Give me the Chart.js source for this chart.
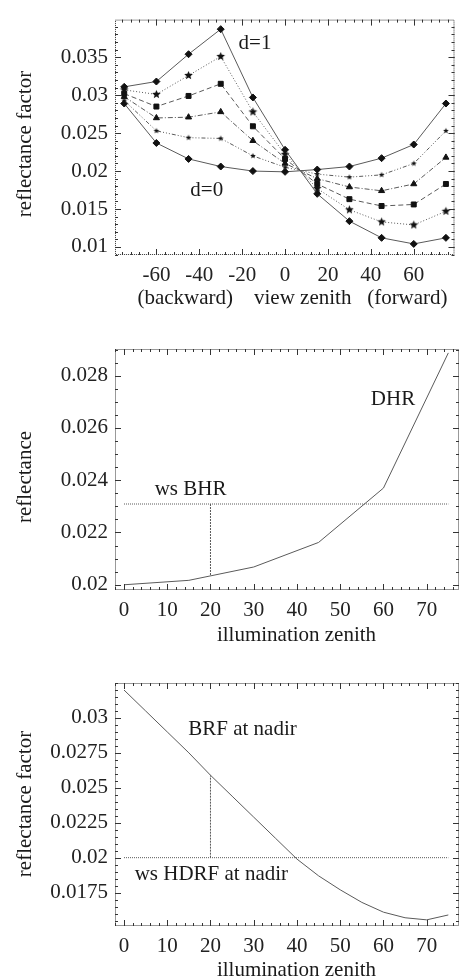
<!DOCTYPE html>
<html>
<head>
<meta charset="utf-8">
<script src="https://cdn.jsdelivr.net/npm/chart.js@4.4.1/dist/chart.umd.min.js"></script>
<style>
  html, body { margin: 0; padding: 0; background: #fff; }
  canvas { position: absolute; left: 0; }
  #chart1 { top: 0; }
  #chart2 { top: 320px; }
  #chart3 { top: 650px; }
</style>
</head>
<body>
<canvas id="chart1" width="460" height="320"></canvas>
<canvas id="chart2" width="460" height="330"></canvas>
<canvas id="chart3" width="460" height="329"></canvas>
<script>
// --- panel 1: BRF vs view zenith, d = 0 ... 1
const viewZenith = [-75, -60, -45, -30, -15, 0, 15, 30, 45, 60, 75];
const brfD10 = [0.0311, 0.0318, 0.0354, 0.0387, 0.0297, 0.0228, 0.0170, 0.0134, 0.0112, 0.0104, 0.0112];
const brfD08 = [0.0307, 0.0301, 0.0326, 0.0351, 0.0278, 0.0222, 0.0177, 0.0149, 0.0133, 0.0129, 0.0147];
const brfD06 = [0.0302, 0.0285, 0.0299, 0.0315, 0.0259, 0.0216, 0.0183, 0.0163, 0.0154, 0.0156, 0.0183];
const brfD04 = [0.0298, 0.0270, 0.0271, 0.0278, 0.0240, 0.0210, 0.0190, 0.0179, 0.0174, 0.0183, 0.0218];
const brfD02 = [0.0293, 0.0253, 0.0244, 0.0243, 0.0220, 0.0205, 0.0196, 0.0192, 0.0195, 0.0210, 0.0253];
const brfD00 = [0.0289, 0.0237, 0.0216, 0.0206, 0.0200, 0.0199, 0.0202, 0.0206, 0.0217, 0.0235, 0.0289];
const xTicks1 = [-60, -40, -20, 0, 20, 40, 60];
const yTicks1 = [0.01, 0.015, 0.02, 0.025, 0.03, 0.035];
const yLabels1 = ['0.01', '0.015', '0.02', '0.025', '0.03', '0.035'];

// --- panel 2: DHR vs illumination zenith
const illumZenith = [0, 15, 30, 45, 60, 75];
const dhr = [0.0200, 0.02017, 0.02068, 0.02162, 0.02370, 0.02887];
const bhrX = [0, 75];
const bhrY = [0.02309, 0.02309];
const bhrMarkX = [20, 20];
const bhrMarkY = [0.02309, 0.02034];
const xTicks23 = [0, 10, 20, 30, 40, 50, 60, 70];
const yTicks2 = [0.02, 0.022, 0.024, 0.026, 0.028];
const yLabels2 = ['0.02', '0.022', '0.024', '0.026', '0.028'];

// --- panel 3: BRF at nadir vs illumination zenith
const nadirZenith = [0, 5, 10, 15, 20, 25, 30, 35, 40, 45, 50, 55, 60, 65, 70, 75];
const brfNadir = [0.0320, 0.0305, 0.0290, 0.0275, 0.0259, 0.0244, 0.0229, 0.0214, 0.0199,
                  0.0187, 0.0177, 0.0168, 0.0161, 0.0157, 0.01555, 0.0159];
const hdrfX = [0, 75];
const hdrfY = [0.0200, 0.0200];
const hdrfMarkX = [20, 20];
const hdrfMarkY = [0.0200, 0.0259];
const yTicks3 = [0.0175, 0.02, 0.0225, 0.025, 0.0275, 0.03];
const yLabels3 = ['0.0175', '0.02', '0.0225', '0.025', '0.0275', '0.03'];

const FONT = 'Liberation Serif';
Chart.defaults.font.family = FONT;
Chart.defaults.font.size = 21;
Chart.defaults.color = '#222';

const LINE = '#5a5a5a';
const MARK = '#111';

function makeStar(r) {
  const s = Math.ceil(r * 2 + 2);
  const c = document.createElement('canvas');
  c.width = c.height = s;
  const g = c.getContext('2d');
  g.fillStyle = MARK;
  g.beginPath();
  for (let i = 0; i < 10; i++) {
    const a = -Math.PI / 2 + i * Math.PI / 5;
    const rr = i % 2 ? r * 0.45 : r;
    g.lineTo(s / 2 + rr * Math.cos(a), s / 2 + rr * Math.sin(a));
  }
  g.closePath();
  g.fill();
  return c;
}

function pts(xs, ys) {
  return xs.map((x, i) => ({ x: x, y: ys[i] }));
}

function series(xs, ys, dash, style, radius) {
  return {
    data: pts(xs, ys),
    borderColor: LINE,
    borderWidth: 1,
    borderDash: dash,
    pointStyle: style,
    pointRadius: radius,
    pointBackgroundColor: MARK,
    pointBorderColor: MARK,
    pointBorderWidth: 1,
    tension: 0,
    fill: false
  };
}

// frame with inward major/minor ticks on all four sides
const framePlugin = {
  id: 'frame',
  afterDraw(chart, args, opts) {
    const { ctx, chartArea: a, scales } = chart;
    const xs = scales.x, ys = scales.y;
    ctx.save();
    ctx.strokeStyle = '#333';
    ctx.lineWidth = 1;
    ctx.setLineDash([1, 1]);
    ctx.strokeRect(a.left + 0.5, a.top + 0.5, a.right - a.left - 1, a.bottom - a.top - 1);
    ctx.setLineDash([]);
    ctx.beginPath();
    const tickAt = (scale, v, len, horiz) => {
      const p = Math.round(scale.getPixelForValue(v)) + 0.5;
      if (horiz) {
        ctx.moveTo(p, a.bottom); ctx.lineTo(p, a.bottom - len);
        ctx.moveTo(p, a.top); ctx.lineTo(p, a.top + len);
      } else {
        ctx.moveTo(a.left, p); ctx.lineTo(a.left + len, p);
        ctx.moveTo(a.right, p); ctx.lineTo(a.right - len, p);
      }
    };
    const eps = 1e-9;
    for (let v = Math.ceil(xs.min / opts.xMinor - eps) * opts.xMinor; v <= xs.max + eps; v += opts.xMinor) {
      tickAt(xs, v, 3, true);
    }
    for (let v = Math.ceil(ys.min / opts.yMinor - eps) * opts.yMinor; v <= ys.max + eps; v += opts.yMinor) {
      tickAt(ys, v, 3, false);
    }
    xs.ticks.forEach(t => tickAt(xs, t.value, 6, true));
    ys.ticks.forEach(t => tickAt(ys, t.value, 6, false));
    ctx.stroke();
    ctx.restore();
  }
};

// free text: data coordinates (x, y) or canvas pixels (px, py)
const notesPlugin = {
  id: 'notes',
  afterDraw(chart, args, opts) {
    const { ctx, scales } = chart;
    ctx.save();
    ctx.fillStyle = '#1a1a1a';
    ctx.font = '21px "' + FONT + '"';
    ctx.textAlign = 'center';
    ctx.textBaseline = 'middle';
    (opts.items || []).forEach(n => {
      const px = n.px !== undefined ? n.px : scales.x.getPixelForValue(n.x);
      const py = n.py !== undefined ? n.py : scales.y.getPixelForValue(n.y);
      ctx.save();
      ctx.translate(px, py);
      if (n.rotate) ctx.rotate(-Math.PI / 2);
      ctx.fillText(n.text, 0, 0);
      ctx.restore();
    });
    ctx.restore();
  }
};

function baseOptions(p) {
  return {
    responsive: false,
    animation: false,
    layout: { padding: { top: p.top, right: 1, left: 0, bottom: 0 } },
    plugins: {
      legend: { display: false },
      tooltip: { enabled: false },
      frame: { xMinor: p.xMinor, yMinor: p.yMinor },
      notes: { items: p.notes }
    },
    scales: {
      x: {
        type: 'linear',
        min: p.xMin,
        max: p.xMax,
        grid: { display: false, drawTicks: false },
        border: { display: false },
        afterBuildTicks: s => { s.ticks = p.xTicks.map(v => ({ value: v })); },
        afterFit: s => { s.height = p.height - p.bottom; },
        ticks: { padding: 8, maxRotation: 0, autoSkip: false, callback: v => String(v) }
      },
      y: {
        type: 'linear',
        min: p.yMin,
        max: p.yMax,
        grid: { display: false, drawTicks: false },
        border: { display: false },
        afterBuildTicks: s => { s.ticks = p.yTicks.map(v => ({ value: v })); },
        afterFit: s => { s.width = 115; },
        ticks: { padding: 7, autoSkip: false, callback: (v, i) => p.yLabels[i] }
      }
    }
  };
}

// 1. BRF for different d
new Chart(document.getElementById('chart1'), {
  type: 'line',
  data: {
    datasets: [
      series(viewZenith, brfD10, [], 'rectRot', 3.5),
      series(viewZenith, brfD08, [1, 2], makeStar(4.5), 4.5),
      series(viewZenith, brfD06, [5, 3], 'rect', 3.5),
      series(viewZenith, brfD04, [5, 2, 1, 2], 'triangle', 3.5),
      series(viewZenith, brfD02, [4, 2, 1, 2, 1, 2, 1, 2], makeStar(3), 3),
      series(viewZenith, brfD00, [], 'rectRot', 3.5)
    ]
  },
  options: baseOptions({
    top: 13, height: 320, bottom: 255,
    xMin: -79.3, xMax: 79, yMin: 0.00894, yMax: 0.03996,
    xTicks: xTicks1, yTicks: yTicks1, yLabels: yLabels1,
    xMinor: 4, yMinor: 0.001,
    notes: [
      { text: 'd=1', x: -14, y: 0.0368 },
      { text: 'd=0', x: -36.5, y: 0.01747 },
      { text: '(backward)    view zenith   (forward)', px: 292.5, py: 298 },
      { text: 'reflectance factor', px: 25, py: 144, rotate: true }
    ]
  }),
  plugins: [framePlugin, notesPlugin]
});

// 2. DHR and white-sky BHR
new Chart(document.getElementById('chart2'), {
  type: 'line',
  data: {
    datasets: [
      series(illumZenith, dhr, [], false, 0),
      series(bhrX, bhrY, [1, 1], false, 0),
      series(bhrMarkX, bhrMarkY, [2, 1], false, 0)
    ]
  },
  options: baseOptions({
    top: 29, height: 330, bottom: 270,
    xMin: -2.08, xMax: 77.47, yMin: 0.0198, yMax: 0.02902,
    xTicks: xTicks23, yTicks: yTicks2, yLabels: yLabels2,
    xMinor: 2, yMinor: 0.0005,
    notes: [
      { text: 'DHR', x: 62.2, y: 0.02708 },
      { text: 'ws BHR', x: 15.4, y: 0.02366 },
      { text: 'illumination zenith', px: 296.5, py: 315 },
      { text: 'reflectance', px: 25, py: 157, rotate: true }
    ]
  }),
  plugins: [framePlugin, notesPlugin]
});

// 3. BRF at nadir and white-sky HDRF at nadir
new Chart(document.getElementById('chart3'), {
  type: 'line',
  data: {
    datasets: [
      series(nadirZenith, brfNadir, [], false, 0),
      series(hdrfX, hdrfY, [1, 1], false, 0),
      series(hdrfMarkX, hdrfMarkY, [2, 1], false, 0)
    ]
  },
  options: baseOptions({
    top: 33, height: 329, bottom: 276,
    xMin: -2.08, xMax: 77.47, yMin: 0.01511, yMax: 0.0325,
    xTicks: xTicks23, yTicks: yTicks3, yLabels: yLabels3,
    xMinor: 2, yMinor: 0.0005,
    notes: [
      { text: 'BRF at nadir', x: 27.4, y: 0.02916 },
      { text: 'ws HDRF at nadir', x: 20.2, y: 0.0188 },
      { text: 'illumination zenith', px: 296.5, py: 320 },
      { text: 'reflectance factor', px: 25, py: 154, rotate: true }
    ]
  }),
  plugins: [framePlugin, notesPlugin]
});
</script>
</body>
</html>
